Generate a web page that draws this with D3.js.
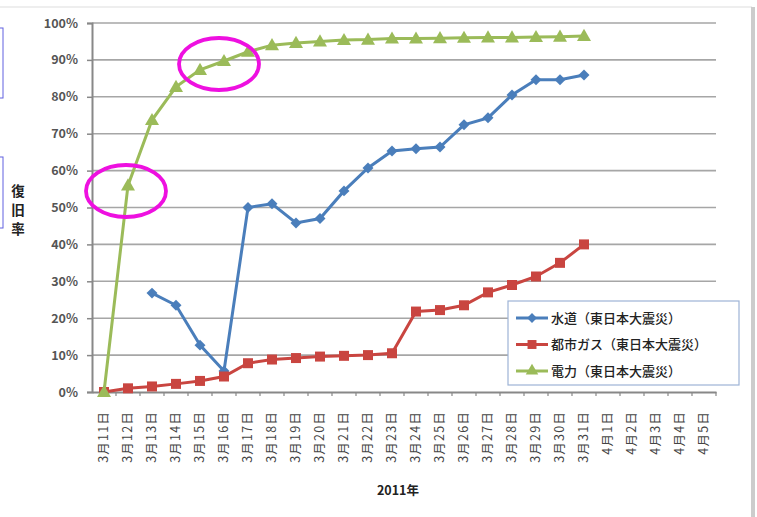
<!DOCTYPE html>
<html><head><meta charset="utf-8">
<script src="https://cdn.jsdelivr.net/npm/d3@7/dist/d3.min.js"></script>
<style>body{margin:0;background:#fff}svg{display:block}text{font-family:"Noto Sans CJK JP","Noto Sans",sans-serif}</style>
</head><body><svg id="c" width="757" height="517"></svg>
<script>
const categories = ["3月11日","3月12日","3月13日","3月14日","3月15日","3月16日","3月17日","3月18日","3月19日","3月20日","3月21日","3月22日","3月23日","3月24日","3月25日","3月26日","3月27日","3月28日","3月29日","3月30日","3月31日","4月1日","4月2日","4月3日","4月4日","4月5日"];
const water = [null,null,26.8,23.5,12.7,5.7,50,51,45.8,47,54.5,60.7,65.3,65.9,66.4,72.4,74.3,80.5,84.6,84.6,85.9];
const gas = [0,1,1.5,2.2,3,4.2,7.8,8.8,9.2,9.6,9.8,10,10.5,21.8,22.2,23.5,27,29,31.3,35,40];
const power = [0,56,73.7,82.7,87.3,89.7,92.2,94,94.6,95,95.4,95.5,95.8,95.8,95.9,96,96.1,96.1,96.2,96.3,96.5];
const yTicks = [0,10,20,30,40,50,60,70,80,90,100];
const seriesNames = ["水道（東日本大震災）","都市ガス（東日本大震災）","電力（東日本大震災）"];
const seriesColors = ["#4a7ebb","#c94540","#9bbb59"];
const seriesShapes = [d3.symbolSquare, d3.symbolSquare, d3.symbolTriangle];
const seriesRot = [45,0,0];
const seriesSize = [60,100,85];

const svg = d3.select("#c");
const L=92, R=716, T=23, B=392;
const x = d3.scaleBand().domain(categories).range([L,R]);
const y = d3.scaleLinear().domain([0,100]).range([B,T]);

// frame decorations
svg.append("line").attr("x1",0).attr("x2",752).attr("y1",7).attr("y2",7).attr("stroke","#ddd").attr("stroke-width",1);
svg.append("rect").attr("x",751).attr("y",7).attr("width",4).attr("height",510).attr("fill","#ccc");
svg.append("rect").attr("x",-5).attr("y",28).attr("width",8).attr("height",70).attr("fill","none").attr("stroke","#6060e0").attr("stroke-width",1);
svg.append("rect").attr("x",-5).attr("y",157).attr("width",8).attr("height",71).attr("fill","none").attr("stroke","#6060e0").attr("stroke-width",1);

// gridlines
svg.append("g").selectAll("line").data(yTicks.filter(d=>d>0)).join("line")
  .attr("x1",L).attr("x2",R).attr("y1",d=>y(d)).attr("y2",d=>y(d))
  .attr("stroke","#a6a6a6").attr("stroke-width",1.6);

// y axis
const ya = svg.append("g").attr("transform",`translate(${L},0)`)
  .call(d3.axisLeft(y).tickValues(yTicks).tickFormat(d=>d+"%").tickSize(5).tickPadding(9));
ya.select(".domain").attr("stroke","#888").attr("stroke-width",2);
ya.selectAll(".tick line").attr("stroke","#888").attr("stroke-width",1.5);
ya.selectAll("text").attr("font-size",12.5).attr("font-weight","bold").attr("fill","#555").attr("font-family","'DejaVu Sans',sans-serif");

// x axis
const xa = svg.append("g").attr("transform",`translate(0,${B})`)
  .call(d3.axisBottom(x).tickSize(0).tickPadding(0));
xa.select(".domain").attr("stroke","#888").attr("stroke-width",2);
xa.selectAll(".tick text").attr("font-size",12.5).attr("fill","#444").attr("letter-spacing","1.2px")
  .attr("transform","rotate(-90)").attr("text-anchor","end").attr("dy","0.35em").attr("x",-19).attr("y",0);
svg.append("g").selectAll("line").data(categories).join("line")
  .attr("x1",d=>x(d)+x.bandwidth()).attr("x2",d=>x(d)+x.bandwidth())
  .attr("y1",B).attr("y2",B+4).attr("stroke","#888").attr("stroke-width",1.2);

// axis titles
svg.append("g").selectAll("text").data(["復","旧","率"]).join("text")
  .attr("x",18).attr("y",(d,i)=>196+i*19).attr("text-anchor","middle")
  .attr("font-size",13.5).attr("font-weight","bold").attr("fill","#222").text(d=>d);
svg.append("text").attr("x",398).attr("y",495).attr("text-anchor","middle")
  .attr("font-size",12.5).attr("font-weight","bold").attr("fill","#222").text("2011年");

// series
const allSeries=[water,gas,power];
const cx = i=>x(categories[i])+x.bandwidth()/2;
allSeries.forEach((s,k)=>{
  const pts = s.map((v,i)=>({i,v})).filter(p=>p.v!==null);
  svg.append("path").datum(pts)
    .attr("d",d3.line().x(p=>cx(p.i)).y(p=>y(p.v)))
    .attr("fill","none").attr("stroke",seriesColors[k]).attr("stroke-width",3);
  svg.append("g").selectAll("path").data(pts).join("path")
    .attr("transform",p=>`translate(${cx(p.i)},${y(p.v)+(k===2?1:0)}) rotate(${seriesRot[k]})`)
    .attr("d",d3.symbol().type(seriesShapes[k]).size(seriesSize[k]))
    .attr("fill",seriesColors[k]);
});

// legend
const lg = svg.append("g");
lg.append("rect").attr("x",508).attr("y",301).attr("width",231).attr("height",84)
  .attr("fill","#fff").attr("stroke","#9db3d6").attr("stroke-width",1.2);
seriesNames.forEach((n,k)=>{
  const yy = 318 + k*26.5;
  lg.append("line").attr("x1",516).attr("x2",548).attr("y1",yy).attr("y2",yy)
    .attr("stroke",seriesColors[k]).attr("stroke-width",3);
  lg.append("path").attr("transform",`translate(532,${yy}) rotate(${seriesRot[k]})`)
    .attr("d",d3.symbol().type(seriesShapes[k]).size(seriesSize[k]*0.8)).attr("fill",seriesColors[k]);
  lg.append("text").attr("x",551).attr("y",yy).attr("dy","0.35em")
    .attr("font-size",13).attr("font-weight",500).attr("fill","#222").text(n);
});

// highlight ellipses
svg.append("ellipse").attr("cx",126).attr("cy",191).attr("rx",40).attr("ry",26)
  .attr("fill","none").attr("stroke","#ee10e0").attr("stroke-width",3.8);
svg.append("ellipse").attr("cx",219).attr("cy",64).attr("rx",40).attr("ry",26)
  .attr("fill","none").attr("stroke","#ee10e0").attr("stroke-width",3.8);
</script></body></html>
